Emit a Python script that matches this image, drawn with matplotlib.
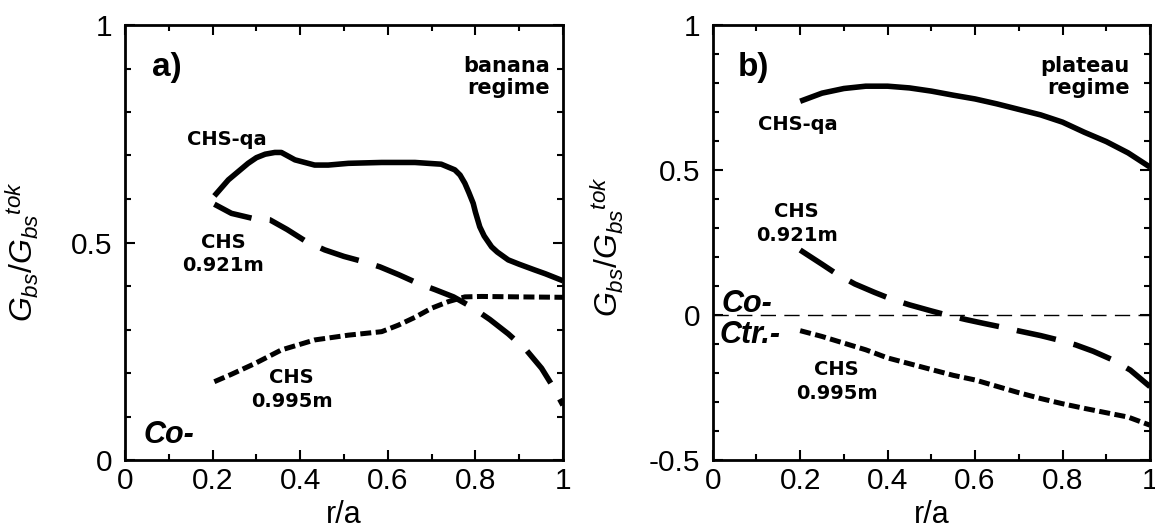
import matplotlib
matplotlib.use('Agg')
import matplotlib.pyplot as plt
from matplotlib.ticker import MultipleLocator, FixedLocator, FuncFormatter

# ---------------- data ----------------
# panel a) banana regime
a_qa_x = [0.204, 0.236, 0.281, 0.30, 0.32, 0.342, 0.357, 0.388, 0.433, 0.464, 0.51, 0.586,
          0.662, 0.722, 0.753, 0.765, 0.776, 0.785, 0.795, 0.80, 0.81, 0.82, 0.837, 0.85,
          0.875, 0.90, 0.935, 0.96, 1.0]
a_qa_y = [0.607, 0.644, 0.682, 0.695, 0.703, 0.707, 0.707, 0.69, 0.678, 0.678, 0.682, 0.684,
          0.684, 0.680, 0.667, 0.655, 0.636, 0.615, 0.59, 0.57, 0.536, 0.515, 0.49, 0.478,
          0.46, 0.45, 0.437, 0.428, 0.412]

a_921_x = [0.204, 0.243, 0.289, 0.331, 0.37, 0.414, 0.456, 0.50, 0.544, 0.582, 0.625, 0.669,
           0.707, 0.75, 0.791, 0.833, 0.875, 0.916, 0.951, 0.975, 1.0]
a_921_y = [0.588, 0.567, 0.556, 0.552, 0.53, 0.502, 0.483, 0.468, 0.456, 0.444, 0.426, 0.406,
           0.392, 0.375, 0.352, 0.323, 0.29, 0.253, 0.211, 0.172, 0.126]

a_995_x = [0.204, 0.243, 0.297, 0.357, 0.433, 0.51, 0.586, 0.624, 0.662, 0.70, 0.738, 0.776,
           0.814, 0.9, 1.0]
a_995_y = [0.18, 0.197, 0.222, 0.253, 0.276, 0.287, 0.295, 0.31, 0.328, 0.349, 0.364, 0.375,
           0.376, 0.375, 0.374]

# panel b) plateau regime
b_qa_x = [0.2, 0.25, 0.3, 0.35, 0.4, 0.45, 0.5, 0.55, 0.6, 0.65, 0.7, 0.75, 0.8, 0.85, 0.9,
          0.95, 1.0]
b_qa_y = [0.737, 0.765, 0.781, 0.789, 0.789, 0.783, 0.772, 0.758, 0.745, 0.728, 0.709, 0.69,
          0.665, 0.63, 0.598, 0.559, 0.51]

b_921_x = [0.2, 0.25, 0.284, 0.325, 0.37, 0.41, 0.45, 0.5, 0.54, 0.58, 0.62, 0.665, 0.70,
           0.75, 0.79, 0.83, 0.87, 0.915, 0.955, 1.0]
b_921_y = [0.224, 0.175, 0.141, 0.107, 0.078, 0.054, 0.035, 0.014, -0.002, -0.016, -0.029,
           -0.043, -0.055, -0.071, -0.086, -0.103, -0.125, -0.155, -0.19, -0.247]

b_995_x = [0.2, 0.25, 0.3, 0.35, 0.4, 0.45, 0.5, 0.55, 0.6, 0.65, 0.7, 0.75, 0.8, 0.85, 0.9,
           0.95, 1.0]
b_995_y = [-0.054, -0.074, -0.097, -0.12, -0.148, -0.168, -0.188, -0.208, -0.224, -0.246,
           -0.268, -0.288, -0.306, -0.322, -0.337, -0.352, -0.38]

x_major = [0, 0.2, 0.4, 0.6, 0.8, 1.0]
a_y_major = [0, 0.5, 1.0]
b_y_major = [-0.5, 0, 0.5, 1.0]

# ---------------- style ----------------
plt.rcParams['font.family'] = ['Liberation Sans', 'DejaVu Sans']
plt.rcParams['mathtext.fontset'] = 'custom'
plt.rcParams['mathtext.it'] = 'Liberation Sans:italic'
plt.rcParams['mathtext.rm'] = 'Liberation Sans'

W, H = 1155, 531
fig = plt.figure(figsize=(W / 100, H / 100), dpi=100)
axA = fig.add_axes([125 / W, 71 / H, 438 / W, 435 / H])
axB = fig.add_axes([712.7 / W, 71 / H, 437.3 / W, 435 / H])


def fmt(v, pos):
    if abs(v) < 1e-9:
        return '0'
    if abs(v - round(v)) < 1e-9:
        return '%d' % round(v)
    return '%.1f' % v


def style(ax, ylim, ymaj, ylab_x, ylab_y):
    ax.set_xlim(0, 1)
    ax.set_ylim(*ylim)
    ax.xaxis.set_major_locator(FixedLocator(x_major))
    ax.xaxis.set_minor_locator(MultipleLocator(0.1))
    ax.yaxis.set_major_locator(FixedLocator(ymaj))
    ax.yaxis.set_minor_locator(MultipleLocator(0.1))
    ax.xaxis.set_major_formatter(FuncFormatter(fmt))
    ax.yaxis.set_major_formatter(FuncFormatter(fmt))
    ax.tick_params(which='both', direction='in', top=True, right=True, width=1.5,
                   labelsize=21.5)
    ax.tick_params(which='major', length=7.5)
    ax.tick_params(which='minor', length=4)
    ax.tick_params(axis='y', pad=9)
    ax.tick_params(axis='x', pad=5)
    for s in ax.spines.values():
        s.set_linewidth(2.0)
    ax.text(ylab_x, ylab_y, r'$G_{bs}/G_{bs}{}^{tok}$', rotation=90, ha='center',
            va='center', fontsize=23, transform=ax.transAxes)
    ax.text(0.5, -0.127, 'r/a', ha='center', va='center', fontsize=22,
            transform=ax.transAxes)


style(axA, (0, 1), a_y_major, -0.233, 0.48)
style(axB, (-0.5, 1), b_y_major, -0.24, 0.49)

solid_kw = dict(color='black', lw=4.0, solid_capstyle='butt', solid_joinstyle='round')
dash_kw = dict(color='black', lw=4.0, dashes=(7.2, 3.3), dash_capstyle='butt')
dot_kw = dict(color='black', lw=3.6, dashes=(2.2, 0.9), dash_capstyle='butt')

axA.plot(a_qa_x, a_qa_y, **solid_kw)
axA.plot(a_921_x, a_921_y, **dash_kw)
axA.plot(a_995_x, a_995_y, **dot_kw)

axB.plot(b_qa_x, b_qa_y, **solid_kw)
axB.plot(b_921_x, b_921_y, **dash_kw)
axB.plot(b_995_x, b_995_y, **dot_kw)
axB.axhline(0, color='black', lw=1.0, dashes=(11, 6))

lab = dict(fontsize=14, fontweight='bold', family='DejaVu Sans', ha='center',
           va='baseline')


def label(ax, x, y, s, **kw):
    d = dict(lab)
    d.update(kw)
    ax.text(x, y, s, transform=ax.transAxes, **d)


# panel a texts
label(axA, 0.062, 0.883, 'a)', fontsize=24, family='Liberation Sans', ha='left')
label(axA, 0.97, 0.892, 'banana', fontsize=15, ha='right')
label(axA, 0.97, 0.841, 'regime', fontsize=15, ha='right')
label(axA, 0.232, 0.724, 'CHS-qa')
label(axA, 0.224, 0.487, 'CHS')
label(axA, 0.224, 0.435, '0.921m')
label(axA, 0.38, 0.176, 'CHS')
label(axA, 0.38, 0.1226, '0.995m')
label(axA, 0.042, 0.038, 'Co-', fontsize=22, family='Liberation Sans', style='italic',
      ha='left')

# panel b texts
label(axB, 0.058, 0.883, 'b)', fontsize=24, family='Liberation Sans', ha='left')
label(axB, 0.954, 0.892, 'plateau', fontsize=15, ha='right')
label(axB, 0.954, 0.841, 'regime', fontsize=15, ha='right')
label(axB, 0.194, 0.7586, 'CHS-qa')
label(axB, 0.192, 0.559, 'CHS')
label(axB, 0.192, 0.504, '0.921m')
label(axB, 0.2835, 0.195, 'CHS')
label(axB, 0.2835, 0.140, '0.995m')
label(axB, 0.0206, 0.341, 'Co-', fontsize=22, family='Liberation Sans', style='italic',
      ha='left')
label(axB, 0.0167, 0.268, 'Ctr.-', fontsize=22, family='Liberation Sans', style='italic',
      ha='left')

fig.savefig('out.png', dpi=100)
